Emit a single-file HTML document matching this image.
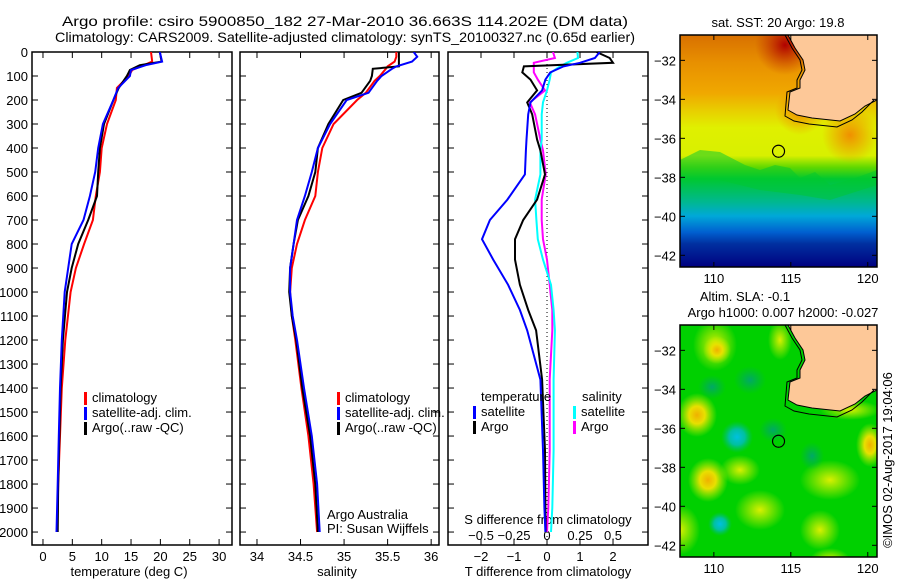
<!DOCTYPE html>
<html><head><meta charset="utf-8"><style>
html,body{margin:0;padding:0;background:#fff;width:900px;height:580px;overflow:hidden}
svg{display:block;font-family:"Liberation Sans",Arial,sans-serif}
</style></head><body>
<svg id="c" width="900" height="580" xmlns="http://www.w3.org/2000/svg">
<defs>
<linearGradient id="sstg" x1="0" y1="0" x2="0" y2="1">
<stop offset="0" stop-color="#d87000"/><stop offset="0.12" stop-color="#e89000"/><stop offset="0.25" stop-color="#f0a800"/>
<stop offset="0.33" stop-color="#e8d000"/><stop offset="0.4" stop-color="#e0f000"/><stop offset="0.52" stop-color="#d8f000"/><stop offset="0.57" stop-color="#60d800"/>
<stop offset="0.62" stop-color="#00c830"/><stop offset="0.72" stop-color="#00b890"/><stop offset="0.78" stop-color="#00a8d8"/>
<stop offset="0.85" stop-color="#0060d0"/><stop offset="0.9" stop-color="#0030a0"/><stop offset="1" stop-color="#000080"/>
</linearGradient>
<radialGradient id="blobY"><stop offset="0" stop-color="#d8f000"/><stop offset="1" stop-color="#d8f000" stop-opacity="0"/></radialGradient>
<radialGradient id="blobO"><stop offset="0" stop-color="#f0b000"/><stop offset="0.4" stop-color="#e8e000"/><stop offset="1" stop-color="#c0f000" stop-opacity="0"/></radialGradient>
<radialGradient id="blobC"><stop offset="0" stop-color="#00c0e0"/><stop offset="0.5" stop-color="#00c0a0"/><stop offset="1" stop-color="#00c060" stop-opacity="0"/></radialGradient>
<radialGradient id="blobT"><stop offset="0" stop-color="#00a868"/><stop offset="1" stop-color="#00b050" stop-opacity="0"/></radialGradient>
<radialGradient id="blobR"><stop offset="0" stop-color="#b00000"/><stop offset="1" stop-color="#c03000" stop-opacity="0"/></radialGradient>
<radialGradient id="blobOr"><stop offset="0" stop-color="#f09000"/><stop offset="1" stop-color="#f09000" stop-opacity="0"/></radialGradient>
<clipPath id="clip1"><rect x="32" y="52" width="200" height="493"/></clipPath>
<clipPath id="clip2"><rect x="240" y="52" width="199" height="493"/></clipPath>
<clipPath id="clip3"><rect x="448" y="52" width="200" height="493"/></clipPath>
<clipPath id="cm1"><rect x="680" y="35" width="197" height="232"/></clipPath>
<clipPath id="cm2"><rect x="680" y="325" width="197" height="232"/></clipPath>
</defs>
<text x="345" y="26" font-size="14" text-anchor="middle" textLength="566" lengthAdjust="spacingAndGlyphs">Argo profile: csiro 5900850_182 27-Mar-2010 36.663S 114.202E (DM data)</text>
<text x="345" y="42" font-size="14" text-anchor="middle" textLength="580" lengthAdjust="spacingAndGlyphs">Climatology: CARS2009. Satellite-adjusted climatology: synTS_20100327.nc (0.65d earlier)</text>
<g id="g1"></g>
<g id="g2"></g>
<g id="g3"></g>
<g id="m1"></g>
<g id="m2"></g>
<text transform="translate(892,460) rotate(-90)" font-size="13" text-anchor="middle">©IMOS 02-Aug-2017 19:04:06</text>
</svg>
<script>
// ---- data ----
const depthT = [0,40,55,75,100,150,200,300,400,500,600,700,800,900,1000,1200,1400,1600,1800,2000];
const tempClim = [18.4,18.6,17.2,15.2,14.6,12.6,12.4,10.9,10.0,9.7,9.0,8.5,7.0,5.6,4.7,3.8,3.2,2.9,2.6,2.4];
const tempSat  = [19.9,20.3,17.5,15.0,14.8,12.8,12.0,10.2,9.4,8.9,8.0,6.9,4.9,4.3,3.7,3.2,2.9,2.7,2.5,2.3];
const tempArgo = [19.9,20.2,16.5,14.8,14.3,12.9,12.0,10.4,9.7,9.4,9.2,7.7,6.0,4.9,4.1,3.4,3.0,2.8,2.6,2.5];
const depthS = [0,20,40,60,70,100,120,170,200,300,400,500,600,700,800,900,1000,1100,1200,1400,1600,1800,2000];
const salClim = [35.6,35.6,35.58,35.5,35.48,35.41,35.35,35.25,35.15,34.88,34.75,34.7,34.67,34.55,34.46,34.4,34.38,34.4,34.44,34.51,34.59,34.65,34.69];
const salSat  = [35.8,35.84,35.78,35.6,35.55,35.43,35.38,35.28,35.03,34.84,34.7,34.63,34.55,34.46,34.42,34.38,34.38,34.41,34.46,34.54,34.63,34.69,34.72];
const salArgo = [35.63,35.63,35.63,35.63,35.33,35.32,35.3,35.2,34.99,34.82,34.7,34.67,34.59,34.47,34.42,34.38,34.37,34.4,34.45,34.52,34.61,34.67,34.7];
const depthD = [0,25,45,60,85,115,160,210,260,365,410,510,615,700,780,865,970,1075,1160,1365,1660,1900,2000];
const dTSat  = [1.6,1.45,1.0,0.5,0.1,-0.05,-0.15,-0.5,-0.57,-0.62,-0.64,-0.67,-1.2,-1.73,-1.97,-1.63,-1.18,-0.82,-0.6,-0.2,-0.12,-0.08,-0.05];
const dTArgo = [1.5,1.9,2.0,-0.7,-0.75,-0.5,-0.3,-0.6,-0.45,-0.3,-0.2,-0.06,-0.3,-0.72,-0.97,-0.97,-0.82,-0.57,-0.33,-0.15,-0.06,-0.05,-0.04];
const dSSat  = [0.23,0.235,0.15,0.1,0.03,0.02,0.0,-0.03,-0.04,-0.04,-0.05,-0.05,-0.09,-0.08,-0.07,-0.03,0.03,0.05,0.06,0.05,0.05,0.04,0.03];
const dSArgo = [0.045,0.06,-0.1,-0.1,-0.1,-0.07,-0.015,-0.13,-0.09,-0.05,-0.03,-0.01,-0.04,-0.04,-0.03,0.0,0.02,0.04,0.04,0.02,0.02,0.01,0.0];
const depthTicks = [0,100,200,300,400,500,600,700,800,900,1000,1100,1200,1300,1400,1500,1600,1700,1800,1900,2000];
const tempTicks = [0,5,10,15,20,25,30];
const salTicks = [34,34.5,35,35.5,36];
const tDiffTicks = [-2,-1,0,1,2];
const sDiffTicks = [-0.5,-0.25,0,0.25,0.5];
const lonTicks = [110,115,120];
const latTicks = [-32,-34,-36,-38,-40,-42];
const argoLon = 114.202, argoLat = -36.663;

// ---- axes ----
const NS="http://www.w3.org/2000/svg";
const Y0=52,Y1=545,D0=0,D1=2054;
const yD=d=>Y0+(d-D0)/(D1-D0)*(Y1-Y0);
const mkX=(a,b,px0,px1)=>v=>px0+(v-a)/(b-a)*(px1-px0);
const xT=mkX(-1.87,32.2,32,232);
const xS=mkX(33.805,36.09,240,439);
const xdT=mkX(-3,3.06,448,648);
const xdS=mkX(-0.75,0.765,448,648);
function el(p,tag,a){const e=document.createElementNS(NS,tag);for(const k in a)e.setAttribute(k,a[k]);p.appendChild(e);return e;}
function txt(p,x,y,s,anchor,size){const t=el(p,'text',{x:x,y:y,'font-size':size||13,'text-anchor':anchor||'start'});t.textContent=s;return t;}
function line(g,xs,ds,fx,col,name,clip){
  const pts=xs.map((v,i)=>fx(v).toFixed(1)+','+yD(ds[i]).toFixed(1)).join(' ');
  const p=el(g,'polyline',{points:pts,fill:'none',stroke:col,'stroke-width':2,'clip-path':clip});
  
  
}
function frame(g,x0,x1,name){
  const r=el(g,'rect',{x:x0,y:Y0,width:x1-x0,height:Y1-Y0,fill:'none',stroke:'#000','stroke-width':1.5});
  
  
  depthTicks.forEach(d=>{el(g,'line',{x1:x0,x2:x0+6,y1:yD(d),y2:yD(d),stroke:'#000'});el(g,'line',{x1:x1,x2:x1-6,y1:yD(d),y2:yD(d),stroke:'#000'});});
}
function legend(g,x,y,items){
  items.forEach((it,i)=>{
    el(g,'rect',{x:x,y:y+i*15-10,width:3,height:13,fill:it[1]});
    const t=txt(g,x+8,y+i*15,it[0]);
    
    
  });
}
// panel 1
const g1=document.getElementById('g1');
frame(g1,32,232,'temperature-axes');
depthTicks.forEach(d=>{const t=txt(g1,28,yD(d)+5,String(d),'end');});
tempTicks.forEach(v=>{el(g1,'line',{x1:xT(v),x2:xT(v),y1:Y1,y2:Y1-6,stroke:'#000'});el(g1,'line',{x1:xT(v),x2:xT(v),y1:Y0,y2:Y0+6,stroke:'#000'});
  const t=txt(g1,xT(v),561,String(v),'middle');});
txt(g1,129,576,'temperature (deg C)','middle');
line(g1,tempClim,depthT,xT,'#ff0000','temp-climatology-line','url(#clip1)');
line(g1,tempArgo,depthT,xT,'#000000','temp-argo-line','url(#clip1)');
line(g1,tempSat,depthT,xT,'#0000ff','temp-satellite-line','url(#clip1)');
legend(g1,84,402,[['climatology','#ff0000'],['satellite-adj. clim.','#0000ff'],['Argo(..raw -QC)','#000']]);
// panel 2
const g2=document.getElementById('g2');
frame(g2,240,439,'salinity-axes');
salTicks.forEach(v=>{el(g2,'line',{x1:xS(v),x2:xS(v),y1:Y1,y2:Y1-6,stroke:'#000'});el(g2,'line',{x1:xS(v),x2:xS(v),y1:Y0,y2:Y0+6,stroke:'#000'});
  const t=txt(g2,xS(v),561,String(v),'middle');});
txt(g2,337,576,'salinity','middle');
line(g2,salClim,depthS,xS,'#ff0000','sal-climatology-line','url(#clip2)');
line(g2,salArgo,depthS,xS,'#000000','sal-argo-line','url(#clip2)');
line(g2,salSat,depthS,xS,'#0000ff','sal-satellite-line','url(#clip2)');
legend(g2,337,402,[['climatology','#ff0000'],['satellite-adj. clim.','#0000ff'],['Argo(..raw -QC)','#000']]);
txt(g2,327,519,'Argo Australia');
txt(g2,327,533,'PI: Susan Wijffels');
// panel 3
const g3=document.getElementById('g3');
frame(g3,448,648,'difference-axes');
el(g3,'line',{x1:xdT(0),x2:xdT(0),y1:Y0,y2:Y1,stroke:'#000','stroke-dasharray':'1,3'});
tDiffTicks.forEach(v=>{el(g3,'line',{x1:xdT(v),x2:xdT(v),y1:Y1,y2:Y1-6,stroke:'#000'});
  const t=txt(g3,xdT(v),561,(v<0?'\u2212':'')+Math.abs(v),'middle');});
sDiffTicks.forEach(v=>{el(g3,'line',{x1:xdS(v),x2:xdS(v),y1:Y0,y2:Y0+6,stroke:'#000'});
  const t=txt(g3,xdS(v),540,(v<0?'\u2212':'')+Math.abs(v),'middle');});
txt(g3,548,576,'T difference from climatology','middle');
txt(g3,548,524,'S difference from climatology','middle');
line(g3,dSArgo,depthD,xdS,'#ff00ff','s-diff-argo-line','url(#clip3)');
line(g3,dSSat,depthD,xdS,'#00ffff','s-diff-satellite-line','url(#clip3)');
line(g3,dTArgo,depthD,xdT,'#000000','t-diff-argo-line','url(#clip3)');
line(g3,dTSat,depthD,xdT,'#0000ff','t-diff-satellite-line','url(#clip3)');
txt(g3,481,401,'temperature');
txt(g3,582,401,'salinity');
legend(g3,473,416,[['satellite','#0000ff'],['Argo','#000']]);
legend(g3,573,416,[['satellite','#00ffff'],['Argo','#ff00ff']]);
// maps
const mx=mkX(107.8,120.6,680,877);
function mkY(top,bot){return v=>top+(v-(-30.7))/(-42.6-(-30.7))*(bot-top);}
function coast(g,oy){
  const c=[[788,35],[795,48],[803,60],[805,70],[800,80],[800,88],[790,92],[788,110],[797,115],[812,118],[840,121],[855,114],[865,106],[877,100]];
  const pts=c.map(p=>p[0]+','+(p[1]+oy)).join(' ');
  el(g,'polygon',{points:pts+' 877,'+(35+oy)+' 788,'+(35+oy),fill:'#fdc898',stroke:'#000','stroke-width':1});
  const iso=c.map(p=>(p[0]-3)+','+(p[1]+oy+(p[1]>100?6:0))).join(' ');
  el(g,'polyline',{points:iso,fill:'none',stroke:'#000','stroke-width':1});
}
function mapAxes(g,top,bot){
  const my=mkY(top,bot);
  el(g,'rect',{x:680,y:top,width:197,height:bot-top,fill:'none',stroke:'#000','stroke-width':1.5});
  lonTicks.forEach(v=>{el(g,'line',{x1:mx(v),x2:mx(v),y1:bot,y2:bot-5,stroke:'#000'});el(g,'line',{x1:mx(v),x2:mx(v),y1:top,y2:top+5,stroke:'#000'});
    const t=txt(g,mx(v),bot+16,String(v),'middle');});
  latTicks.forEach(v=>{el(g,'line',{x1:680,x2:685,y1:my(v),y2:my(v),stroke:'#000'});el(g,'line',{x1:877,x2:872,y1:my(v),y2:my(v),stroke:'#000'});
    const t=txt(g,676,my(v)+5,'\u2212'+Math.abs(v),'end');});
  const c=el(g,'circle',{cx:mx(argoLon),cy:my(argoLat),r:6,fill:'none',stroke:'#000','stroke-width':1.2});
  
  
}
const m1=document.getElementById('m1');
const c1=el(m1,'g',{'clip-path':'url(#cm1)'});
el(c1,'rect',{x:680,y:35,width:197,height:232,fill:'url(#sstg)'});
el(c1,'ellipse',{cx:785,cy:45,rx:30,ry:30,fill:'url(#blobR)'});
el(c1,'ellipse',{cx:800,cy:110,rx:25,ry:25,fill:'url(#blobOr)'});
el(c1,'ellipse',{cx:850,cy:135,rx:28,ry:28,fill:'url(#blobOr)'});
el(c1,'path',{d:'M680,160 L700,150 L720,152 L745,165 L760,170 L775,165 L790,168 L800,178 L815,172 L830,185 L850,180 L877,170 L877,185 L830,200 L800,195 L760,190 L720,180 L680,180 Z',fill:'#00c830',opacity:0.5});
coast(c1,0);
mapAxes(m1,35,267);
txt(m1,778,27,'sat. SST: 20 Argo: 19.8','middle');
const m2=document.getElementById('m2');
const c2=el(m2,'g',{'clip-path':'url(#cm2)'});
el(c2,'rect',{x:680,y:325,width:197,height:232,fill:'#00d000'});
[[715,345,22,26,'blobY'],[717,350,14,14,'blobO'],[697,415,20,22,'blobO'],[708,480,20,22,'blobO'],[780,340,12,20,'blobY'],
 [830,480,30,20,'blobY'],[870,445,14,22,'blobO'],[760,510,25,20,'blobY'],[820,530,20,20,'blobY'],[740,470,20,15,'blobY'],
 [680,530,20,25,'blobY'],[850,410,30,10,'blobY'],[830,560,20,12,'blobY']].forEach(b=>el(c2,'ellipse',{cx:b[0],cy:b[1],rx:b[2],ry:b[3],fill:'url(#'+b[4]+')'}));
[[737,437,16,16,'blobC'],[720,524,12,12,'blobC'],[773,430,14,12,'blobT'],[712,387,14,12,'blobT'],[812,456,12,14,'blobT'],[750,380,16,14,'blobT']].forEach(b=>el(c2,'ellipse',{cx:b[0],cy:b[1],rx:b[2],ry:b[3],fill:'url(#'+b[4]+')'}));
coast(c2,290);
mapAxes(m2,325,557);
txt(m2,745,301,'Altim. SLA: -0.1','middle');
txt(m2,783,317,'Argo h1000: 0.007 h2000: -0.027','middle');
</script>
</body></html>
